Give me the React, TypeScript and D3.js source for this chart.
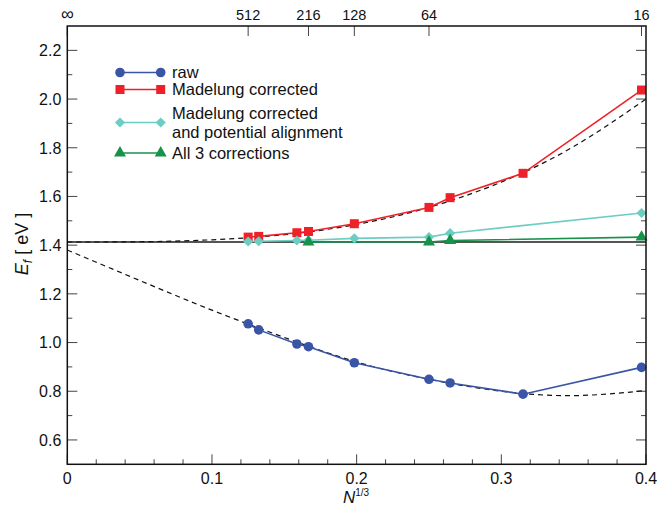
import React from 'react';
import * as d3 from 'd3';

const W = 660;
const H = 509;
const M = { left: 67.3, right: 646, top: 26, bottom: 464.3 };

// x = N^(-1/3)
const xAll = [0.125, 0.1323, 0.1587, 0.1667, 0.1984, 0.25, 0.2646, 0.315, 0.3969];
const rawVals = [1.077, 1.052, 0.994, 0.983, 0.917, 0.849, 0.834, 0.788, 0.898];
const madVals = [1.433, 1.436, 1.451, 1.456, 1.488, 1.555, 1.595, 1.695, 2.037];
const alignX = [0.125, 0.1323, 0.1587, 0.1667, 0.1984, 0.25, 0.2646, 0.3969];
const alignVals = [1.415, 1.416, 1.419, 1.42, 1.428, 1.433, 1.449, 1.532];
const all3X = [0.1667, 0.25, 0.2646, 0.3969];
const all3Vals = [1.413, 1.413, 1.419, 1.433];

// dashed fit curves
const fitX = [0, 0.05, 0.1, 0.15, 0.2, 0.25, 0.3, 0.35, 0.4];
const fitUpper = [1.413, 1.414, 1.422, 1.443, 1.485, 1.555, 1.659, 1.805, 2.0];
const fitLower = [1.38, 1.255, 1.133, 1.021, 0.92, 0.849, 0.8, 0.782, 0.803];
const limitValue = 1.413;

const topTickX = [0, 0.125, 0.1667, 0.1984, 0.25, 0.3969];
const topTickLabels = ['∞', '512', '216', '128', '64', '16'];
const xMajor = [0, 0.1, 0.2, 0.3, 0.4];
const yMajor = [0.6, 0.8, 1.0, 1.2, 1.4, 1.6, 1.8, 2.0, 2.2];
const yMinor = [0.7, 0.9, 1.1, 1.3, 1.5, 1.7, 1.9, 2.1];

const C_RAW = '#3a55a6';
const C_MAD = '#ee2128';
const C_ALN = '#6ccdc3';
const C_ALL = '#16924a';

const FONT = '"Liberation Sans", Arial, Helvetica, sans-serif';

type Sym = 'circle' | 'square' | 'diamond' | 'triangle';

function Marker({ cx, cy, type, color }: { cx: number; cy: number; type: Sym; color: string }) {
  if (type === 'circle') return <circle cx={cx} cy={cy} r={4.8} fill={color} />;
  if (type === 'square') return <rect x={cx - 4.5} y={cy - 4.5} width={9} height={9} fill={color} />;
  if (type === 'diamond')
    return <path d={d3.symbol().type(d3.symbolSquare).size(52)()!} transform={`translate(${cx},${cy}) rotate(45)`} fill={color} />;
  return <path d={d3.symbol().type(d3.symbolTriangle).size(62)()!} transform={`translate(${cx},${cy})`} fill={color} />;
}

export default function App() {
  const x = d3.scaleLinear().domain([0, 0.4]).range([M.left, M.right]);
  const y = d3.scaleLinear().domain([0.5, 2.3]).range([M.bottom, M.top]);
  const line = d3.line<[number, number]>().x((d) => x(d[0])).y((d) => y(d[1]));
  const smooth = d3
    .line<[number, number]>()
    .x((d) => x(d[0]))
    .y((d) => y(d[1]))
    .curve(d3.curveNatural);

  const series: { xs: number[]; ys: number[]; color: string; sym: Sym }[] = [
    { xs: xAll, ys: rawVals, color: C_RAW, sym: 'circle' },
    { xs: xAll, ys: madVals, color: C_MAD, sym: 'square' },
    { xs: alignX, ys: alignVals, color: C_ALN, sym: 'diamond' },
    { xs: all3X, ys: all3Vals, color: C_ALL, sym: 'triangle' },
  ];

  const xMinor = d3.range(0.02, 0.4, 0.02).filter((v) => Math.abs(v * 10 - Math.round(v * 10)) > 1e-6);

  const legend = [
    { label: ['raw'], color: C_RAW, sym: 'circle' as Sym, y: 72.5 },
    { label: ['Madelung corrected'], color: C_MAD, sym: 'square' as Sym, y: 89.5 },
    { label: ['Madelung corrected', 'and potential alignment'], color: C_ALN, sym: 'diamond' as Sym, y: 122.5 },
    { label: ['All 3 corrections'], color: C_ALL, sym: 'triangle' as Sym, y: 153 },
  ];

  return (
    <svg width={W} height={H} style={{ position: 'absolute', left: 0, top: 0, background: '#fff' }} fontFamily={FONT}>
      <defs>
        <clipPath id="plot">
          <rect x={M.left} y={M.top} width={M.right - M.left} height={M.bottom - M.top} />
        </clipPath>
      </defs>
      {/* ticks */}
      <g stroke="#444" strokeWidth={1}>
        {yMajor.map((v) => (
          <g key={'ym' + v}>
            <line x1={M.left} x2={M.left + 10} y1={y(v)} y2={y(v)} />
            <line x1={M.right} x2={M.right - 10} y1={y(v)} y2={y(v)} />
          </g>
        ))}
        {yMinor.map((v) => (
          <g key={'yn' + v}>
            <line x1={M.left} x2={M.left + 5} y1={y(v)} y2={y(v)} />
            <line x1={M.right} x2={M.right - 5} y1={y(v)} y2={y(v)} />
          </g>
        ))}
        {xMajor.map((v) => (
          <line key={'xm' + v} x1={x(v)} x2={x(v)} y1={M.bottom} y2={M.bottom - 10} />
        ))}
        {xMinor.map((v) => (
          <line key={'xn' + v} x1={x(v)} x2={x(v)} y1={M.bottom} y2={M.bottom - 5} />
        ))}
        {topTickX.map((v) => (
          <line key={'xt' + v} x1={x(v)} x2={x(v)} y1={M.top} y2={M.top + 10} />
        ))}
      </g>
      {/* tick labels */}
      <g fontSize={16} fill="#111">
        {yMajor.map((v) => (
          <text key={'yl' + v} x={M.left - 6} y={y(v)} dy="0.36em" textAnchor="end">
            {d3.format('.1f')(v)}
          </text>
        ))}
        {xMajor.map((v) => (
          <text key={'xl' + v} x={x(v)} y={M.bottom + 20} textAnchor="middle">
            {v === 0 ? '0' : d3.format('.1f')(v)}
          </text>
        ))}
      </g>
      <g fontSize={14.5} fill="#111">
        {topTickX.map((v, i) => (
          <text key={'tl' + v} x={x(v)} y={M.top - 6} textAnchor="middle" fontSize={i === 0 ? 18 : 14.5}>
            {topTickLabels[i]}
          </text>
        ))}
      </g>
      {/* axis labels */}
      <text x={356} y={503} textAnchor="middle" fontSize={17} fill="#111">
        <tspan fontStyle="italic">N</tspan>
        <tspan fontSize={10} dy={-7}>1/3</tspan>
      </text>
      <text transform="translate(28,244) rotate(-90)" textAnchor="middle" fontSize={18} fill="#111">
        <tspan fontStyle="italic">E</tspan>
        <tspan fontStyle="italic" fontSize={12} dy={4}>f</tspan>
        <tspan dy={-4}>{' [ eV ]'}</tspan>
      </text>

      <g clipPath="url(#plot)">
        {/* limit line */}
        <line x1={x(0)} x2={x(0.4)} y1={y(limitValue)} y2={y(limitValue)} stroke="#555" strokeWidth={2} />
        {/* fits */}
        <path d={smooth(fitX.map((v, i) => [v, fitUpper[i]] as [number, number]))!} fill="none" stroke="#111" strokeWidth={1.2} strokeDasharray="5,4" />
        <path d={smooth(fitX.map((v, i) => [v, fitLower[i]] as [number, number]))!} fill="none" stroke="#111" strokeWidth={1.2} strokeDasharray="5,4" />
        {series.map((s, si) => (
          <g key={'s' + si}>
            <path d={line(s.xs.map((v, i) => [v, s.ys[i]] as [number, number]))!} fill="none" stroke={s.color} strokeWidth={1.6} />
          </g>
        ))}
      </g>
      {series.map((s, si) => (
        <g key={'m' + si}>
          {s.xs.map((v, i) => (
            <Marker key={i} cx={x(v)} cy={y(s.ys[i])} type={s.sym} color={s.color} />
          ))}
        </g>
      ))}

      {/* frame */}
      <rect x={M.left} y={M.top} width={M.right - M.left} height={M.bottom - M.top} fill="none" stroke="#111" strokeWidth={1.5} />

      {/* legend */}
      <g fontSize={16.5} fill="#111">
        {legend.map((l, i) => (
          <g key={'lg' + i}>
            <line x1={120} x2={160.7} y1={l.y} y2={l.y} stroke={l.color} strokeWidth={1.6} />
            <Marker cx={120} cy={l.y} type={l.sym} color={l.color} />
            <Marker cx={160.7} cy={l.y} type={l.sym} color={l.color} />
            {l.label.length === 1 ? (
              <text x={172} y={l.y} dy="0.36em">{l.label[0]}</text>
            ) : (
              <text x={172} y={l.y - 9} dy="0.36em">
                <tspan x={172}>{l.label[0]}</tspan>
                <tspan x={172} dy={18.5}>{l.label[1]}</tspan>
              </text>
            )}
          </g>
        ))}
      </g>
    </svg>
  );
}
